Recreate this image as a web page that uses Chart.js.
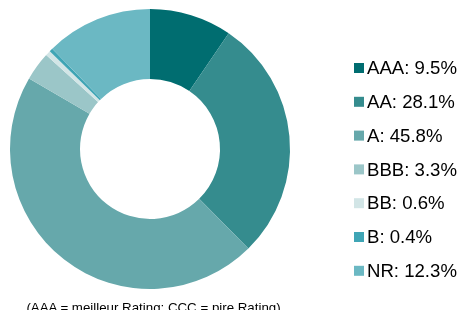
<!DOCTYPE html>
<html>
<head>
<meta charset="utf-8">
<script src="https://cdn.jsdelivr.net/npm/chart.js@4"></script>
<style>
  html, body { margin: 0; padding: 0; background: #fff; }
  #wrap { position: relative; width: 463px; height: 310px; overflow: hidden; }
  #caption {
    position: absolute; left: 0; top: 300px; width: 307px;
    text-align: center; font-family: "Liberation Sans", Arial, sans-serif;
    font-size: 13.3px; color: #000; white-space: nowrap;
  }
</style>
</head>
<body>
<div id="wrap">
  <canvas id="ratingChart" width="463" height="310"></canvas>
  <div id="caption">(AAA = meilleur Rating; CCC = pire Rating)</div>
</div>
<script>
const ratings = ["AAA", "AA", "A", "BBB", "BB", "B", "NR"];
const shares = [9.5, 28.1, 45.8, 3.3, 0.6, 0.4, 12.3];
const colors = ["#006d70", "#358c8e", "#66a8ab", "#9bc6c8", "#d2e5e6", "#3fa5b5", "#6bb8c3"];

// legend on the right, drawn by hand
const sideLegend = {
  id: "sideLegend",
  afterDraw(chart) {
    const ctx = chart.ctx;
    ctx.save();
    ctx.font = "18.6px 'Liberation Sans', Arial, sans-serif";
    ctx.textBaseline = "middle";
    ratings.forEach((r, i) => {
      const y = 68 + i * 33.8;
      ctx.fillStyle = colors[i];
      ctx.fillRect(354, y - 5, 10, 10);
      ctx.fillStyle = "#000";
      ctx.fillText(r + ": " + shares[i].toFixed(1) + "%", 367, y + 1);
    });
    ctx.restore();
  }
};

const ctx = document.getElementById("ratingChart").getContext("2d");
new Chart(ctx, {
  type: "doughnut",
  data: {
    labels: ratings,
    datasets: [{
      data: shares,
      backgroundColor: colors,
      borderWidth: 0
    }]
  },
  options: {
    responsive: false,
    animation: false,
    cutout: "50%",
    layout: { padding: { left: 10, top: 9, right: 173, bottom: 21 } },
    plugins: {
      legend: { display: false },
      tooltip: { enabled: false }
    }
  },
  plugins: [sideLegend]
});
</script>
</body>
</html>
